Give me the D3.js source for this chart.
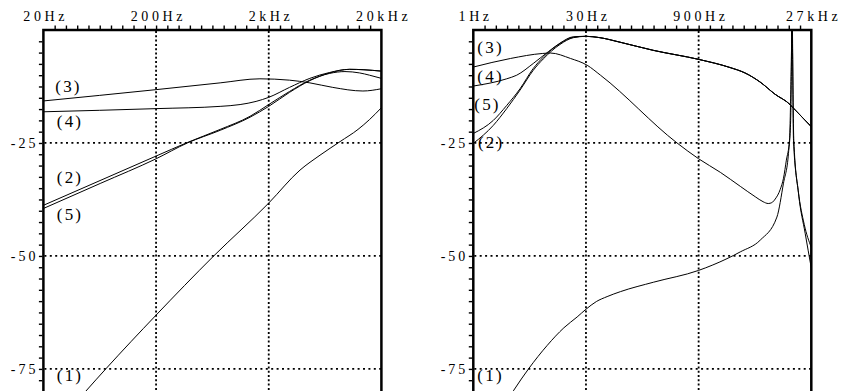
<!DOCTYPE html>
<html><head><meta charset="utf-8">
<script src="https://cdn.jsdelivr.net/npm/d3@7"></script>
<style>
body{margin:0;background:#fff;}
svg{display:block;}
text{font-family:"Liberation Serif","Times New Roman",serif;fill:#000;}
</style></head><body>
<svg id="c" width="846" height="391"></svg>
<script>
// ---------- data ----------
const leftTickValues = [20, 200, 2000, 20000];
const leftTickLabels = ["20Hz", "200Hz", "2kHz", "20kHz"];
const rightTickValues = [1, 30, 900, 27000];
const rightTickLabels = ["1Hz", "30Hz", "900Hz", "27kHz"];
const yTickValues = [-25, -50, -75];
const yTickLabels = ["-25", "-50", "-75"];
const seriesNames = ["(1)", "(2)", "(3)", "(4)", "(5)"];

// left panel curves: [frequency Hz, level dB]
const left1 = [[40,-82.1],[47.7,-79.9],[71.6,-75.0],[200,-63.1],[644,-50.1],[2000,-38.3],[3790,-31.0],[5706,-27.7],[8590,-24.7],[12400,-22.0],[15720,-19.8],[20000,-17.2]];
const left2 = [[20,-38.8],[200,-27.9],[379,-24.9],[741,-22.0],[1365,-19.1],[2000,-16.5],[3060,-13.6],[4635,-11.1],[6950,-9.6],[9500,-9.2],[12800,-9.5],[15700,-10.0],[20000,-10.7]];
const left3 = [[20,-15.7],[200,-13.2],[741,-11.7],[1671,-10.8],[3060,-11.1],[4635,-11.7],[7400,-12.7],[13700,-13.5],[20000,-13.0]];
const left4 = [[20,-18.1],[200,-17.4],[741,-16.9],[1114,-16.5],[1545,-15.8],[2000,-14.9],[3060,-12.7],[4635,-10.7],[6950,-9.4],[10450,-8.7],[14000,-8.8],[20000,-9.1]];
const left5 = [[20,-39.5],[64.7,-33.9],[200,-28.5],[379,-25.0],[741,-22.2],[1365,-19.3],[2000,-16.9],[3060,-13.8],[4635,-11.2],[6950,-9.5],[10450,-8.7],[14000,-8.8],[20000,-9.1]];

// right panel curves
const right1 = [[2.28,-84.4],[3.40,-79.7],[5.35,-74.9],[9.31,-69.8],[15.4,-65.9],[23.0,-63.5],[30,-61.8],[41,-60.1],[56.8,-59.0],[84.9,-57.9],[232,-55.8],[900,-53.2],[2120,-50.6],[3166,-49.1],[5780,-46.5],[9560,-41.4],[11660,-33.9],[13560,-27.3],[14480,-20],[14800,-8],[15040,10],[15340,-5],[15920,-24.4],[18450,-36.5],[22450,-45],[27000,-52.7]];
const right2 = [[1,-25.1],[1.83,-21.1],[2.74,-17.4],[4.10,-13.3],[6.12,-8.9],[8.27,-6.4],[13.7,-3.2],[20.5,-1.7],[30,-1.4],[45.8,-1.7],[83.8,-2.7],[229,-4.5],[900,-6.5],[2317,-8.3],[3644,-9.5],[5740,-11.5],[9010,-14.2],[14190,-16.5],[14950,-16.9],[27000,-21.4]];
const right3 = [[1,-8.2],[3.08,-6.3],[8.01,-5.2],[10.3,-5.1],[18.8,-6.3],[31.1,-7.8],[46.5,-10.0],[469,-25.0],[900,-28.5],[1733,-31.5],[3166,-34.6],[4970,-36.9],[6300,-38.0],[7360,-38.4],[8200,-38.2],[9090,-37.4],[10560,-35.3],[11660,-32.8],[12720,-28.8],[13970,-24.4],[14580,-12],[14940,0],[15040,10],[15290,0],[15770,-24.4],[18190,-35.5],[21800,-43],[27000,-48.1]];
const right4 = [[1,-12.4],[2.74,-10.8],[3.71,-10.0],[6.12,-7.4],[9.62,-4.8],[13.7,-2.9],[20.5,-1.5],[30,-1.4],[45.8,-1.7],[83.8,-2.7],[229,-4.5],[900,-6.5],[2317,-8.3],[3644,-9.5],[5740,-11.5],[9010,-14.2],[14190,-16.5],[14950,-16.9],[27000,-21.4]];
const right5 = [[1,-22.9],[1.83,-20.0],[2.74,-16.7],[4.10,-13.0],[6.12,-8.5],[8.27,-6.0],[13.7,-3.0],[20.5,-1.6],[30,-1.4],[45.8,-1.7],[83.8,-2.7],[229,-4.5],[900,-6.5],[2317,-8.3],[3644,-9.5],[5740,-11.5],[9010,-14.2],[14190,-16.5],[14950,-16.9],[27000,-21.4]];

// ---------- drawing ----------
const svg = d3.select("#c");
const y = d3.scaleLinear().domain([0, -80]).range([30, 391.5]);
const BOTTOM = 400;

function panel(o) {
  const x = d3.scaleLog().base(o.base).domain(o.domain).range(o.range);
  const [x0, x1] = o.range;
  const g = svg.append("g");

  g.append("clipPath").attr("id", o.id).append("rect")
    .attr("x", x0).attr("y", 30).attr("width", x1 - x0).attr("height", BOTTOM - 30);

  // grid
  const grid = g.append("g").attr("stroke", "#000").attr("fill", "none");
  grid.selectAll("line.v").data(o.tickValues.slice(1, -1)).join("line")
    .attr("x1", d => x(d)).attr("x2", d => x(d)).attr("y1", 31).attr("y2", BOTTOM)
    .attr("stroke-width", 1.8).attr("stroke-dasharray", "2,2.3");
  grid.selectAll("line.h").data(yTickValues).join("line")
    .attr("x1", x0 + 1).attr("x2", x1).attr("y1", d => y(d)).attr("y2", d => y(d))
    .attr("stroke-width", 1.8).attr("stroke-dasharray", "2,3.4");

  // curves
  const line = d3.line().x(d => x(d[0])).y(d => y(d[1])).curve(d3.curveMonotoneX);
  g.append("g").attr("clip-path", `url(#${o.id})`)
    .selectAll("path").data(o.series).join("path")
    .attr("d", d => line(d)).attr("fill", "none").attr("stroke", "#000").attr("stroke-width", 1);

  // frame (left, top, right)
  g.append("path").attr("d", `M${x0},${BOTTOM}V30H${x1}V${BOTTOM}`)
    .attr("fill", "none").attr("stroke", "#000").attr("stroke-width", 2.5);

  // minor ticks on top (every 1/10 of a step) and left (every 2.5 dB)
  const minorX = d3.range(1, 30).map(k => o.domain[0] * Math.pow(o.base, k / 10));
  const topAx = g.append("g").attr("transform", "translate(0,29)")
    .call(d3.axisTop(x).tickValues(minorX).tickSize(3.5).tickFormat(""));
  topAx.select(".domain").remove();
  topAx.selectAll("line").attr("stroke-width", 1.4);
  const minorY = d3.range(1, 32).map(k => -2.5 * k);
  const leftAx = g.append("g").attr("transform", `translate(${x0 - 1},0)`)
    .call(d3.axisLeft(y).tickValues(minorY).tickSize(3.5).tickFormat(""));
  leftAx.select(".domain").remove();
  leftAx.selectAll("line").attr("stroke-width", 1.4);

  // major labels
  const topLab = g.append("g").attr("transform", "translate(0,30)")
    .call(d3.axisTop(x).tickValues(o.tickValues).tickSize(0).tickPadding(9.5)
      .tickFormat((d, i) => o.tickLabels[i]));
  topLab.select(".domain").remove();
  topLab.selectAll("text").attr("font-size", 14).attr("font-family", "Liberation Serif")
    .style("letter-spacing", "3.6px").attr("dx", 1.8);

  const leftLab = g.append("g").attr("transform", `translate(${x0},0)`)
    .call(d3.axisLeft(y).tickValues(yTickValues).tickSize(0).tickPadding(5)
      .tickFormat((d, i) => yTickLabels[i]));
  leftLab.select(".domain").remove();
  leftLab.selectAll("text").attr("font-size", 14).attr("font-family", "Liberation Serif")
    .style("letter-spacing", "3px");

  // series labels
  g.selectAll("text.lab").data(o.labels).join("text")
    .attr("class", "lab")
    .attr("x", d => x(d.f)).attr("y", d => y(d.db) + 5)
    .attr("font-size", 17).style("letter-spacing", "2.2px")
    .text(d => seriesNames[d.s - 1]);
}

panel({
  id: "clipL", base: 10, domain: [20, 20000], range: [43.4, 381.4],
  tickValues: leftTickValues, tickLabels: leftTickLabels,
  series: [left1, left2, left3, left4, left5],
  labels: [
    {s: 3, f: 25.5, db: -12.6}, {s: 4, f: 26.3, db: -20.4},
    {s: 2, f: 26.3, db: -32.8}, {s: 5, f: 26.3, db: -40.9}, {s: 1, f: 26.3, db: -76.6}
  ]
});

panel({
  id: "clipR", base: 30, domain: [1, 27000], range: [473.3, 811.3],
  tickValues: rightTickValues, tickLabels: rightTickLabels,
  series: [right1, right2, right3, right4, right5],
  labels: [
    {s: 3, f: 1.13, db: -4.0}, {s: 4, f: 1.13, db: -10.4},
    {s: 5, f: 1.03, db: -16.6}, {s: 2, f: 1.15, db: -25.0}, {s: 1, f: 1.13, db: -76.6}
  ]
});
</script>
</body></html>
